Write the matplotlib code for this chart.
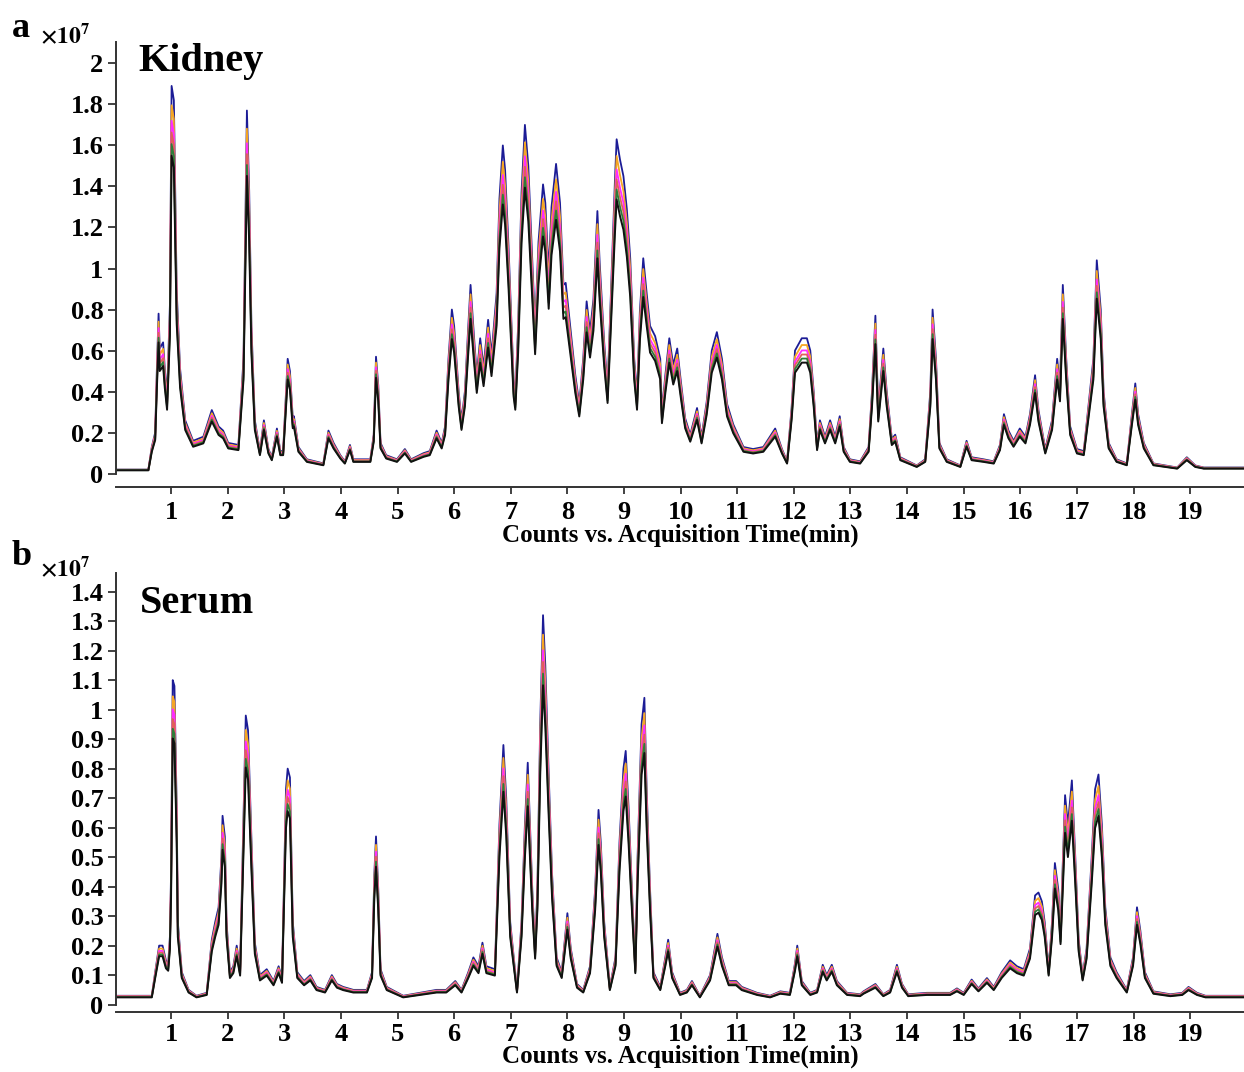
import matplotlib
matplotlib.use('Agg')
import matplotlib.pyplot as plt

# kidney trace (upper envelope), time in min, counts in 1e7
kidney_t = [0.04, 0.60, 0.66, 0.72, 0.75, 0.78, 0.80, 0.86, 0.89, 0.93, 0.98, 1.01, 1.05, 1.10,
            1.16, 1.25, 1.39, 1.57, 1.72, 1.84, 1.92, 2.01, 2.19, 2.28, 2.34, 2.38, 2.42, 2.48,
            2.57, 2.64, 2.72, 2.78, 2.87, 2.93, 2.98, 3.06, 3.10, 3.15, 3.17, 3.25, 3.40, 3.69,
            3.78, 3.87, 3.99, 4.07, 4.16, 4.22, 4.52, 4.58, 4.62, 4.66, 4.70, 4.80, 4.99, 5.13,
            5.24, 5.46, 5.57, 5.69, 5.78, 5.84, 5.90, 5.96, 6.00, 6.08, 6.13, 6.19, 6.25, 6.29,
            6.35, 6.40, 6.46, 6.52, 6.60, 6.66, 6.75, 6.80, 6.86, 6.90, 6.96, 7.05, 7.08, 7.13,
            7.19, 7.25, 7.31, 7.37, 7.43, 7.49, 7.57, 7.61, 7.67, 7.72, 7.80, 7.87, 7.93, 7.97,
            8.05, 8.14, 8.21, 8.28, 8.34, 8.40, 8.46, 8.53, 8.57, 8.65, 8.71, 8.78, 8.84, 8.87,
            8.93, 8.99, 9.05, 9.11, 9.18, 9.23, 9.28, 9.34, 9.40, 9.46, 9.55, 9.64, 9.67, 9.73,
            9.80, 9.87, 9.94, 10.00, 10.08, 10.17, 10.29, 10.37, 10.46, 10.55, 10.64, 10.73,
            10.82, 10.93, 11.11, 11.28, 11.46, 11.67, 11.79, 11.88, 11.96, 12.02, 12.14, 12.23,
            12.29, 12.35, 12.41, 12.46, 12.55, 12.64, 12.73, 12.81, 12.88, 12.99, 13.17, 13.32,
            13.38, 13.44, 13.49, 13.58, 13.64, 13.73, 13.79, 13.88, 14.17, 14.32, 14.41, 14.45,
            14.51, 14.57, 14.70, 14.94, 15.05, 15.14, 15.35, 15.53, 15.64, 15.71, 15.79, 15.88,
            15.99, 16.09, 16.17, 16.26, 16.32, 16.44, 16.56, 16.65, 16.70, 16.75, 16.81, 16.88,
            17.00, 17.12, 17.23, 17.29, 17.35, 17.42, 17.47, 17.56, 17.70, 17.88, 17.97, 18.03,
            18.08, 18.18, 18.35, 18.77, 18.94, 19.09, 19.24, 19.94]
kidney_v = [0.02, 0.02, 0.13, 0.20, 0.51, 0.78, 0.61, 0.64, 0.51, 0.38, 0.82, 1.89, 1.82, 0.89,
            0.51, 0.26, 0.16, 0.18, 0.31, 0.23, 0.21, 0.15, 0.14, 0.56, 1.77, 1.38, 0.72, 0.26,
            0.11, 0.26, 0.12, 0.08, 0.22, 0.11, 0.11, 0.56, 0.50, 0.27, 0.28, 0.13, 0.07, 0.05,
            0.21, 0.15, 0.09, 0.06, 0.14, 0.07, 0.07, 0.19, 0.57, 0.43, 0.15, 0.09, 0.07, 0.12,
            0.07, 0.10, 0.11, 0.21, 0.15, 0.23, 0.56, 0.80, 0.72, 0.40, 0.26, 0.40, 0.72, 0.92,
            0.67, 0.48, 0.66, 0.52, 0.75, 0.58, 0.88, 1.34, 1.60, 1.48, 1.11, 0.46, 0.38, 0.72,
            1.37, 1.70, 1.50, 1.11, 0.71, 1.13, 1.41, 1.32, 0.98, 1.30, 1.51, 1.32, 0.92, 0.93,
            0.72, 0.48, 0.34, 0.56, 0.84, 0.69, 0.85, 1.28, 1.03, 0.64, 0.42, 0.97, 1.43, 1.63,
            1.53, 1.45, 1.29, 1.05, 0.56, 0.38, 0.79, 1.05, 0.88, 0.72, 0.67, 0.56, 0.30, 0.48,
            0.66, 0.53, 0.61, 0.46, 0.27, 0.19, 0.32, 0.18, 0.35, 0.60, 0.69, 0.56,
            0.34, 0.24, 0.13, 0.12, 0.13, 0.22, 0.12, 0.06, 0.32, 0.60, 0.66, 0.66,
            0.60, 0.40, 0.14, 0.26, 0.18, 0.26, 0.18, 0.28, 0.13, 0.07, 0.06, 0.13,
            0.40, 0.77, 0.31, 0.61, 0.40, 0.17, 0.19, 0.08, 0.04, 0.07, 0.40, 0.80,
            0.56, 0.15, 0.07, 0.04, 0.16, 0.08, 0.07, 0.06, 0.14, 0.29, 0.21, 0.16,
            0.22, 0.18, 0.29, 0.48, 0.31, 0.12, 0.26, 0.56, 0.43, 0.92, 0.56, 0.23,
            0.12, 0.11, 0.40, 0.56, 1.04, 0.80, 0.40, 0.15, 0.07, 0.05, 0.29, 0.44,
            0.29, 0.15, 0.05, 0.03, 0.08, 0.04, 0.03, 0.03]

# serum trace (upper envelope)
serum_t = [0.04, 0.66, 0.72, 0.79, 0.85, 0.91, 0.95, 0.98, 1.00, 1.03, 1.06, 1.10, 1.12, 1.19,
           1.31, 1.45, 1.63, 1.72, 1.78, 1.84, 1.89, 1.91, 1.95, 1.98, 2.04, 2.10, 2.16, 2.22,
           2.27, 2.32, 2.36, 2.42, 2.48, 2.57, 2.69, 2.81, 2.90, 2.96, 3.03, 3.06, 3.10, 3.15,
           3.23, 3.35, 3.46, 3.57, 3.72, 3.84, 3.93, 4.04, 4.22, 4.46, 4.55, 4.59, 4.62, 4.66,
           4.70, 4.81, 5.10, 5.40, 5.69, 5.86, 6.02, 6.13, 6.25, 6.34, 6.43, 6.50, 6.57, 6.72,
           6.80, 6.87, 6.92, 6.99, 7.11, 7.19, 7.25, 7.30, 7.34, 7.38, 7.43, 7.47, 7.52, 7.57,
           7.61, 7.67, 7.73, 7.81, 7.90, 8.00, 8.06, 8.17, 8.28, 8.40, 8.49, 8.55, 8.59, 8.65,
           8.75, 8.85, 8.92, 8.99, 9.03, 9.08, 9.14, 9.20, 9.24, 9.31, 9.36, 9.40, 9.46, 9.52,
           9.64, 9.73, 9.78, 9.85, 9.99, 10.11, 10.20, 10.34, 10.52, 10.65, 10.73, 10.85, 10.98,
           11.08, 11.35, 11.58, 11.76, 11.93, 12.02, 12.06, 12.14, 12.29, 12.41, 12.51, 12.58,
           12.67, 12.76, 12.94, 13.17, 13.23, 13.44, 13.58, 13.70, 13.82, 13.91, 14.02, 14.35,
           14.76, 14.88, 15.00, 15.14, 15.26, 15.41, 15.53, 15.67, 15.82, 15.94, 16.06, 16.17,
           16.26, 16.32, 16.38, 16.43, 16.50, 16.56, 16.61, 16.67, 16.71, 16.79, 16.84, 16.91,
           16.97, 17.03, 17.10, 17.17, 17.26, 17.32, 17.38, 17.44, 17.50, 17.59, 17.70, 17.88,
           17.99, 18.06, 18.12, 18.20, 18.35, 18.65, 18.86, 18.97, 19.12, 19.27, 19.94]
serum_v = [0.03, 0.03, 0.11, 0.20, 0.20, 0.15, 0.14, 0.23, 0.44, 1.10, 1.08, 0.67, 0.28, 0.11,
           0.05, 0.03, 0.04, 0.22, 0.28, 0.33, 0.50, 0.64, 0.57, 0.28, 0.11, 0.13, 0.20, 0.12,
           0.55, 0.98, 0.93, 0.56, 0.21, 0.10, 0.12, 0.08, 0.13, 0.09, 0.73, 0.80, 0.77, 0.28,
           0.11, 0.08, 0.10, 0.06, 0.05, 0.10, 0.07, 0.06, 0.05, 0.05, 0.11, 0.44, 0.57, 0.39,
           0.12, 0.06, 0.03, 0.04, 0.05, 0.05, 0.08, 0.05, 0.11, 0.16, 0.13, 0.21, 0.13, 0.12,
           0.61, 0.88, 0.70, 0.28, 0.05, 0.28, 0.61, 0.82, 0.61, 0.39, 0.19, 0.39, 0.95, 1.32,
           1.15, 0.78, 0.44, 0.16, 0.11, 0.31, 0.19, 0.07, 0.05, 0.13, 0.39, 0.66, 0.55, 0.28,
           0.06, 0.16, 0.55, 0.80, 0.86, 0.67, 0.39, 0.13, 0.50, 0.95, 1.04, 0.73, 0.39, 0.11,
           0.06, 0.16, 0.22, 0.11, 0.04, 0.05, 0.08, 0.03, 0.10, 0.24, 0.16, 0.08, 0.08,
           0.06, 0.04, 0.03, 0.045, 0.04, 0.14, 0.20, 0.08, 0.04, 0.05, 0.135, 0.10,
           0.135, 0.08, 0.04, 0.035, 0.045, 0.07, 0.035, 0.05, 0.135, 0.07, 0.035, 0.04,
           0.04, 0.055, 0.04, 0.085, 0.055, 0.09, 0.06, 0.11, 0.15, 0.13, 0.12, 0.19,
           0.37, 0.38, 0.35, 0.28, 0.12, 0.28, 0.48, 0.39, 0.25, 0.71, 0.61, 0.76,
           0.50, 0.22, 0.10, 0.19, 0.50, 0.73, 0.78, 0.61, 0.33, 0.16, 0.11, 0.05,
           0.16, 0.33, 0.25, 0.11, 0.045, 0.035, 0.04, 0.06, 0.04, 0.03, 0.03]

# overlaid sample traces: colour and relative height
trace_colors = ['#1c1c96', '#f5a623', '#ff2bff', '#e0605a', '#2e7d3a', '#111111']
trace_scale = [1.0, 0.95, 0.91, 0.88, 0.85, 0.82]

kidney_ticks = [0, 0.2, 0.4, 0.6, 0.8, 1, 1.2, 1.4, 1.6, 1.8, 2]
serum_ticks = [0, 0.1, 0.2, 0.3, 0.4, 0.5, 0.6, 0.7, 0.8, 0.9, 1, 1.1, 1.2, 1.3, 1.4]

plt.rcParams['font.family'] = ['Liberation Serif', 'DejaVu Serif']
plt.rcParams['font.weight'] = 'bold'
plt.rcParams['mathtext.fontset'] = 'stix'

W, H = 1244, 1072
fig = plt.figure(figsize=(W / 100, H / 100), dpi=100)

ax1 = fig.add_axes([116 / W, 1 - 487 / H, 1 - 116 / W, (487 - 42) / H])
ax2 = fig.add_axes([116 / W, 1 - 1012 / H, 1 - 116 / W, (1012 - 573) / H])


def draw(ax, t, v, ticks, ylim, xpad, lpad):
    for c, s in zip(trace_colors, trace_scale):
        ax.plot(t, [y * s for y in v], color=c, lw=1.3 if c != '#111111' else 1.4)
    ax.set_xlim(0.028, 19.95)
    ax.set_ylim(*ylim)
    for s in ['top', 'right']:
        ax.spines[s].set_visible(False)
    ax.spines['left'].set_bounds(0, ylim[1])
    for s in ['left', 'bottom']:
        ax.spines[s].set_color('#333333')
        ax.spines[s].set_linewidth(1.4)
    ax.set_xticks(range(1, 20))
    ax.set_yticks(ticks)
    ax.set_yticklabels([f'{x:g}' for x in ticks])
    ax.tick_params(direction='out', length=6, width=1.3, color='#333333',
                   labelsize=19, pad=3)
    ax.tick_params(axis='x', length=5, pad=xpad)
    ax.set_xlabel('Counts vs. Acquisition Time(min)', fontsize=18,
                  fontweight='bold', labelpad=lpad)


draw(ax1, kidney_t, kidney_v, kidney_ticks, (-0.065, 2.104), 5, 0)
draw(ax2, serum_t, serum_v, serum_ticks, (-0.025, 1.463), 3, -1)


def ftext(x, y, s, **kw):
    fig.text(x / W, 1 - y / H, s, va='baseline', **kw)


ftext(12, 37, 'a', fontsize=26, fontweight='bold')
ftext(40, 43, r'$\times10^{7}$', fontsize=17)
ftext(138, 71, 'Kidney', fontsize=29, fontweight='bold')
ftext(12, 565, 'b', fontsize=26, fontweight='bold')
ftext(40, 576, r'$\times10^{7}$', fontsize=17)
ftext(140, 613, 'Serum', fontsize=29, fontweight='bold')

fig.savefig('out.png', dpi=100)
